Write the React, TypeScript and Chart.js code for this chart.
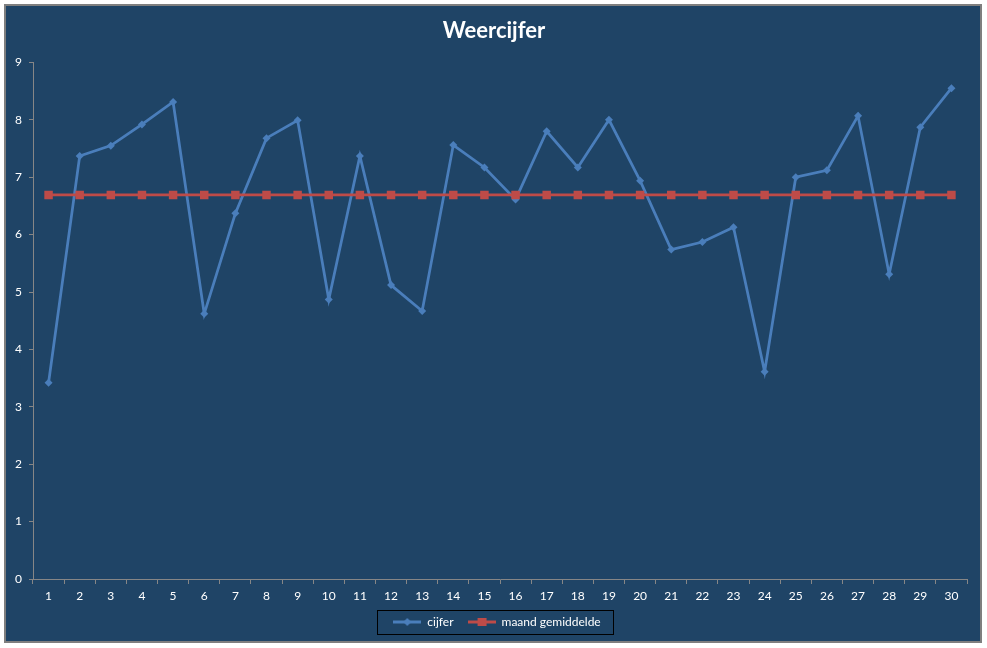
import { useEffect, useRef } from "react";
import { Chart, registerables } from "chart.js";

Chart.register(...registerables);

// dagen van de maand
const dagen = [
  "1", "2", "3", "4", "5", "6", "7", "8", "9", "10",
  "11", "12", "13", "14", "15", "16", "17", "18", "19", "20",
  "21", "22", "23", "24", "25", "26", "27", "28", "29", "30",
];

const cijfer = [
  3.42, 7.37, 7.55, 7.92, 8.31, 4.62, 6.37, 7.68, 7.99, 4.87,
  7.37, 5.12, 4.67, 7.56, 7.17, 6.61, 7.8, 7.17, 8.0, 6.94,
  5.74, 5.87, 6.13, 3.61, 7.0, 7.12, 8.07, 5.31, 7.87, 8.55,
];

// maandgemiddelde (constant)
const maandGemiddelde = [
  6.69, 6.69, 6.69, 6.69, 6.69, 6.69, 6.69, 6.69, 6.69, 6.69,
  6.69, 6.69, 6.69, 6.69, 6.69, 6.69, 6.69, 6.69, 6.69, 6.69,
  6.69, 6.69, 6.69, 6.69, 6.69, 6.69, 6.69, 6.69, 6.69, 6.69,
];

const BLAUW = "#4a7ebb";
const ROOD = "#be4b48";
const AS = "#868686";
const ACHTERGROND = "#1f4466";
const FONT = "Lato, 'Open Sans', sans-serif";

function legendIcoon(kleur: string, vorm: "ruit" | "vierkant") {
  const c = document.createElement("canvas");
  c.width = 28;
  c.height = 10;
  const ctx = c.getContext("2d");
  if (ctx) {
    ctx.strokeStyle = kleur;
    ctx.fillStyle = kleur;
    ctx.lineWidth = 3;
    ctx.beginPath();
    ctx.moveTo(0, 5);
    ctx.lineTo(28, 5);
    ctx.stroke();
    if (vorm === "ruit") {
      ctx.beginPath();
      ctx.moveTo(14, 1);
      ctx.lineTo(18, 5);
      ctx.lineTo(14, 9);
      ctx.lineTo(10, 5);
      ctx.closePath();
      ctx.fill();
    } else {
      ctx.fillRect(10, 1, 9, 8);
    }
  }
  return c;
}

// titel en legenda iets naar rechts, zwart kader rond de legenda
const legendKader = {
  id: "legendKader",
  afterLayout(chart: any) {
    if (chart.legend) {
      chart.legend.left += 6;
      chart.legend.right += 6;
    }
    if (chart.titleBlock) {
      chart.titleBlock.left += 3;
      chart.titleBlock.right += 3;
    }
  },
  afterDraw(chart: any) {
    const boxes = chart.legend?.legendHitBoxes;
    if (!boxes || !boxes.length) return;
    const ctx = chart.ctx;
    const left = Math.min(...boxes.map((b: any) => b.left)) - 16;
    const right = Math.max(...boxes.map((b: any) => b.left + b.width)) + 13;
    const top = boxes[0].top - 6;
    const bottom = boxes[0].top + boxes[0].height + 6;
    ctx.save();
    ctx.strokeStyle = "#000000";
    ctx.lineWidth = 1;
    ctx.strokeRect(Math.round(left) + 0.5, Math.round(top) + 0.5, Math.round(right - left), Math.round(bottom - top));
    ctx.restore();
  },
};

export default function App() {
  const canvasRef = useRef<HTMLCanvasElement | null>(null);
  const chartRef = useRef<Chart | null>(null);

  useEffect(() => {
    const ctx = canvasRef.current?.getContext("2d");
    if (!ctx) return;
    const iconen = [legendIcoon(BLAUW, "ruit"), legendIcoon(ROOD, "vierkant")];

    chartRef.current = new Chart(ctx, {
      type: "line",
      data: {
        labels: dagen,
        datasets: [
          {
            label: "cijfer",
            data: cijfer,
            borderColor: BLAUW,
            backgroundColor: BLAUW,
            borderWidth: 2.75,
            pointStyle: "rectRot",
            pointRadius: 4,
            pointBorderWidth: 0,
            tension: 0,
            order: 1,
          },
          {
            label: "maand gemiddelde",
            data: maandGemiddelde,
            borderColor: ROOD,
            backgroundColor: ROOD,
            borderWidth: 2.75,
            pointStyle: "rect",
            pointRadius: 6,
            pointBorderWidth: 0,
            tension: 0,
            order: 0,
          },
        ],
      },
      options: {
        animation: false,
        responsive: true,
        maintainAspectRatio: false,
        layout: { padding: { left: 9, right: 13, top: 0, bottom: 3 } },
        plugins: {
          title: {
            display: true,
            text: "Weercijfer",
            color: "#ffffff",
            font: { family: FONT, size: 22, weight: "bold" },
            padding: { top: 12, bottom: 18 },
          },
          legend: {
            position: "bottom",
            labels: {
              color: "#ffffff",
              font: { family: FONT, size: 12 },
              usePointStyle: true,
              pointStyleWidth: 28,
              padding: 14,
              sort: (a: any, b: any) => a.datasetIndex - b.datasetIndex,
              generateLabels: (chart: any) =>
                Chart.defaults.plugins.legend.labels
                  .generateLabels(chart)
                  .map((item: any) => ({
                    ...item,
                    pointStyle: iconen[item.datasetIndex],
                    lineWidth: 0,
                    fontColor: "#ffffff",
                  })),
            },
          },
          tooltip: { enabled: false },
        },
        scales: {
          x: {
            offset: true,
            grid: {
              offset: true,
              drawOnChartArea: false,
              drawTicks: true,
              tickLength: 5,
              color: AS,
            },
            border: { display: true, color: AS, width: 1 },
            ticks: {
              color: "#ffffff",
              font: { family: FONT, size: 12 },
              autoSkip: false,
              maxRotation: 0,
              padding: 5,
            },
            afterFit: (scale: any) => {
              scale.height = 23;
            },
          },
          y: {
            min: 0,
            max: 9,
            grid: {
              drawOnChartArea: false,
              drawTicks: true,
              tickLength: 4,
              color: AS,
            },
            border: { display: true, color: AS, width: 1 },
            ticks: {
              stepSize: 1,
              color: "#ffffff",
              font: { family: FONT, size: 12 },
              padding: 7,
            },
            afterFit: (scale: any) => {
              scale.width = 18;
            },
          },
        },
      },
      plugins: [legendKader],
    });

    return () => {
      if (chartRef.current) {
        chartRef.current.destroy();
        chartRef.current = null;
      }
    };
  }, []);

  return (
    <div
      style={{
        position: "absolute",
        left: 4,
        top: 4,
        width: 974,
        height: 635,
        border: "2px solid #7f7f7f",
        background: ACHTERGROND,
      }}
    >
      <canvas ref={canvasRef} />
    </div>
  );
}
